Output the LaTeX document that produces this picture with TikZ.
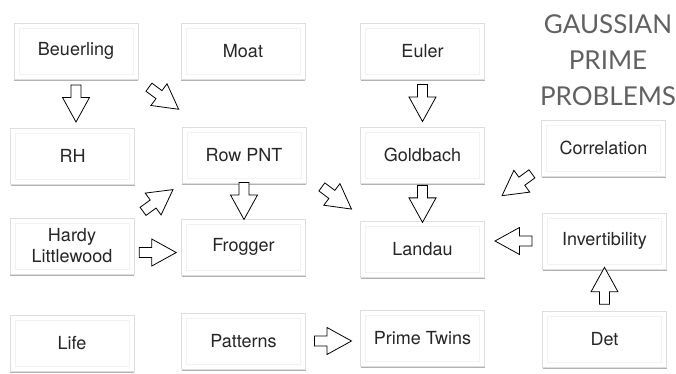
\documentclass[tikz,border=0pt]{standalone}
\usepackage{fontspec}
\setmainfont{TeX Gyre Heros}
\newfontfamily\titlefont{Lato}
\usepackage{tikz}
\usetikzlibrary{shadows,calc}

\tikzset{
  box/.style={draw=black!13,fill=white,minimum width=124bp,minimum height=56bp,
    align=center,text=black!85,font=\fontsize{18bp}{21bp}\selectfont,
    drop shadow={shadow xshift=0bp,shadow yshift=-2.5bp,opacity=.5,fill=black!60},
    path picture={\draw[black!5] ([shift={(5bp,-5bp)}]path picture bounding box.north west)
      rectangle ([shift={(-5bp,5bp)}]path picture bounding box.south east);}},
  title/.style={align=center,text=black!62,font=\titlefont\fontsize{26bp}{36bp}\selectfont},
  blockarrow/.style={draw=black,fill=white,line width=.8bp,line join=miter},
  pics/barrow/.style={code={%
    \draw[blockarrow] (-18.5bp,-5bp) -- (-6bp,-5bp) -- (-6bp,-13.5bp) -- (18.5bp,0bp)
      -- (-6bp,13.5bp) -- (-6bp,5bp) -- (-18.5bp,5bp) -- cycle;}},
}

% hollow arrow between two points, at position #1
\newcommand\blockarrow[3]{%
  \path let \p1=(#2), \p2=(#3), \n1={atan2(\y2-\y1,\x2-\x1)} in
    ($(\p1)!#1!(\p2)$) pic[rotate=\n1] {barrow};}

\begin{document}
\begin{tikzpicture}
\useasboundingbox (0bp,0bp) rectangle (676bp,374bp);
%%
\node (beuerling) at (76bp,323bp) [box] {Beuerling};
  \node (moat) at (243bp,323bp) [box] {Moat};
  \node (euler) at (422.5bp,323bp) [box] {Euler};
  \node (rh) at (72.5bp,218bp) [box] {RH};
  \node (rowpnt) at (244bp,219bp) [box] {Row PNT};
  \node (goldbach) at (422.5bp,219bp) [box] {Goldbach};
  \node (correlation) at (603.5bp,226bp) [box] {Correlation};
  \node (hardy) at (72bp,128bp) [box] {Hardy\\Littlewood};
  \node (frogger) at (243.5bp,127bp) [box] {Frogger};
  \node (landau) at (422.5bp,125bp) [box] {Landau};
  \node (invertibility) at (604.5bp,133bp) [box] {Invertibility};
  \node (life) at (72bp,31bp) [box] {Life};
  \node (patterns) at (243.5bp,33bp) [box] {Patterns};
  \node (primetwins) at (422.5bp,36bp) [box] {Prime Twins};
  \node (det) at (604.5bp,35bp) [box] {Det};
  \node (title) at (608bp,314bp) [title] {GAUSSIAN\\PRIME\\PROBLEMS};
%
  \blockarrow{.5}{beuerling.south}{beuerling.south |- rh.north}
  \blockarrow{.4}{beuerling.south east}{rowpnt.146}
  \blockarrow{.5}{euler.south}{euler.south |- goldbach.north}
  \blockarrow{.5}{rowpnt.south}{rowpnt.south |- frogger.north}
  \blockarrow{.5}{rowpnt.-18}{landau.153}
  \blockarrow{.5}{hardy.north east}{rowpnt.south west}
  \blockarrow{.5}{hardy.-6}{hardy.-6 -| frogger.west}
  \blockarrow{.55}{goldbach.south}{goldbach.south |- landau.north}
  \blockarrow{.33}{correlation.197}{landau.32}
  \blockarrow{.5}{invertibility.west}{invertibility.west -| landau.east}
  \blockarrow{.6}{det.north}{det.north |- invertibility.south}
  \blockarrow{.5}{patterns.east}{patterns.east -| primetwins.west}
%
\end{tikzpicture}
\end{document}
